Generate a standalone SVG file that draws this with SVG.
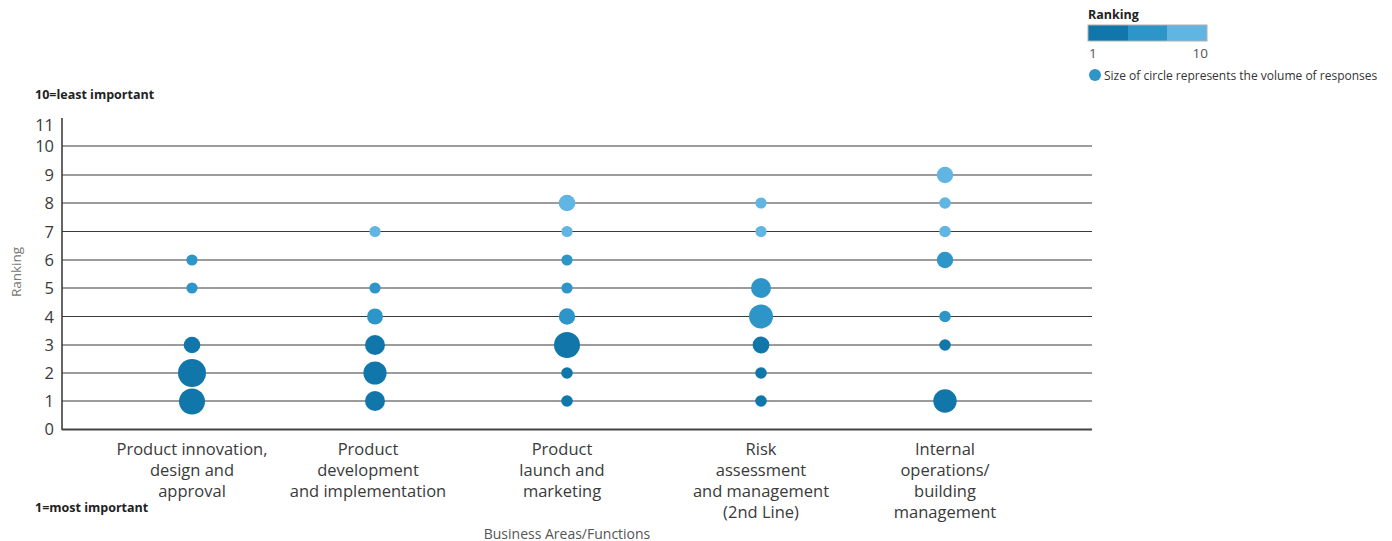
<svg xmlns="http://www.w3.org/2000/svg" width="1392" height="541" viewBox="0 0 1392 541">
<style>
text{font-family:"Open Sans","Noto Sans","Liberation Sans",sans-serif;}
.tick{font-size:16.5px;fill:#3a3a3a;text-anchor:end;}
.cat{font-size:16.5px;fill:#3a3a3a;text-anchor:middle;}
.bold{font-size:12.5px;font-weight:bold;fill:#222;}
.grid{stroke:#3a3a3a;stroke-width:1.2;}
.d{fill:#1177AA;}
.m{fill:#2E95C8;}
.l{fill:#60B5E3;}
</style>
<rect width="1392" height="541" fill="#fff"/>
<g id="legend">
<text x="1088" y="19" class="bold">Ranking</text>
<rect x="1088" y="25" width="40" height="16" class="d"/>
<rect x="1128" y="25" width="39" height="16" class="m"/>
<rect x="1167" y="25" width="40" height="16" class="l"/>
<rect x="1088" y="25" width="119" height="16" fill="none" stroke="#b0b0b0" stroke-width="1"/>
<text x="1089" y="58" font-size="13.5" fill="#555">1</text>
<text x="1208" y="58" font-size="13.5" fill="#555" text-anchor="end">10</text>
<circle cx="1095" cy="75" r="6" class="m"/>
<text x="1104" y="80" font-size="12" fill="#333">Size of circle represents the volume of responses</text>
</g>
<g id="axes">
<text x="35" y="99" class="bold">10=least important</text>
<text x="35" y="512" class="bold">1=most important</text>
<text transform="translate(21,272) rotate(-90)" font-size="13.5" fill="#777" text-anchor="middle">Ranking</text>
<text x="567" y="539" font-size="14" fill="#555" text-anchor="middle">Business Areas/Functions</text>
<line x1="62" y1="118" x2="62" y2="430" stroke="#333" stroke-width="1.5"/>
<line x1="62" y1="429.5" x2="1092" y2="429.5" stroke="#444" stroke-width="2"/>
<g class="grid">
<line x1="62" y1="401" x2="1092" y2="401"/>
<line x1="62" y1="373" x2="1092" y2="373"/>
<line x1="62" y1="345" x2="1092" y2="345"/>
<line x1="62" y1="316.5" x2="1092" y2="316.5"/>
<line x1="62" y1="288" x2="1092" y2="288"/>
<line x1="62" y1="260" x2="1092" y2="260"/>
<line x1="62" y1="231.5" x2="1092" y2="231.5"/>
<line x1="62" y1="203" x2="1092" y2="203"/>
<line x1="62" y1="175" x2="1092" y2="175"/>
<line x1="62" y1="146" x2="1092" y2="146"/>
</g>
<text x="54" y="131" class="tick">11</text>
<text x="54" y="152" class="tick">10</text>
<text x="54" y="181" class="tick">9</text>
<text x="54" y="209" class="tick">8</text>
<text x="54" y="237.5" class="tick">7</text>
<text x="54" y="266" class="tick">6</text>
<text x="54" y="294" class="tick">5</text>
<text x="54" y="322.5" class="tick">4</text>
<text x="54" y="351" class="tick">3</text>
<text x="54" y="379" class="tick">2</text>
<text x="54" y="407" class="tick">1</text>
<text x="54" y="435" class="tick">0</text>
</g>
<g id="col1">
<circle cx="192" cy="260" r="5.6" class="m"/>
<circle cx="192" cy="288" r="5.6" class="m"/>
<circle cx="192" cy="345" r="8.3" class="d"/>
<circle cx="192" cy="373" r="14" class="d"/>
<circle cx="192" cy="401.5" r="13" class="d"/>
<text class="cat" x="192" y="455">Product innovation,</text>
<text class="cat" x="192" y="476">design and</text>
<text class="cat" x="192" y="497">approval</text>
</g>
<g id="col2">
<circle cx="375" cy="231.5" r="5.6" class="l"/>
<circle cx="375" cy="288" r="5.6" class="m"/>
<circle cx="375" cy="316.5" r="8" class="m"/>
<circle cx="375" cy="345" r="10" class="d"/>
<circle cx="375" cy="373" r="11.6" class="d"/>
<circle cx="375" cy="401" r="10" class="d"/>
<text class="cat" x="368" y="455">Product</text>
<text class="cat" x="368" y="476">development</text>
<text class="cat" x="368" y="497">and implementation</text>
</g>
<g id="col3">
<circle cx="567" cy="203" r="8.3" class="l"/>
<circle cx="567" cy="231.5" r="5.6" class="l"/>
<circle cx="567" cy="260" r="5.6" class="m"/>
<circle cx="567" cy="288" r="5.6" class="m"/>
<circle cx="567" cy="316.5" r="8.2" class="m"/>
<circle cx="567" cy="345" r="13" class="d"/>
<circle cx="567" cy="373" r="5.8" class="d"/>
<circle cx="567" cy="401" r="5.8" class="d"/>
<text class="cat" x="562" y="455">Product</text>
<text class="cat" x="562" y="476">launch and</text>
<text class="cat" x="562" y="497">marketing</text>
</g>
<g id="col4">
<circle cx="761" cy="203" r="5.6" class="l"/>
<circle cx="761" cy="231.5" r="5.6" class="l"/>
<circle cx="761" cy="288" r="10" class="m"/>
<circle cx="761" cy="316.5" r="12" class="m"/>
<circle cx="761" cy="345" r="8.4" class="d"/>
<circle cx="761" cy="373" r="5.8" class="d"/>
<circle cx="761" cy="401" r="5.8" class="d"/>
<text class="cat" x="761" y="455">Risk</text>
<text class="cat" x="761" y="476">assessment</text>
<text class="cat" x="761" y="497">and management</text>
<text class="cat" x="761" y="518">(2nd Line)</text>
</g>
<g id="col5">
<circle cx="945" cy="175" r="8.2" class="l"/>
<circle cx="945" cy="203" r="5.8" class="l"/>
<circle cx="945" cy="231.5" r="5.8" class="l"/>
<circle cx="945" cy="260" r="8.2" class="m"/>
<circle cx="945" cy="316.5" r="5.8" class="m"/>
<circle cx="945" cy="345" r="5.8" class="d"/>
<circle cx="945" cy="401" r="11.7" class="d"/>
<text class="cat" x="945" y="455">Internal</text>
<text class="cat" x="945" y="476">operations/</text>
<text class="cat" x="945" y="497">building</text>
<text class="cat" x="945" y="518">management</text>
</g>
</svg>
